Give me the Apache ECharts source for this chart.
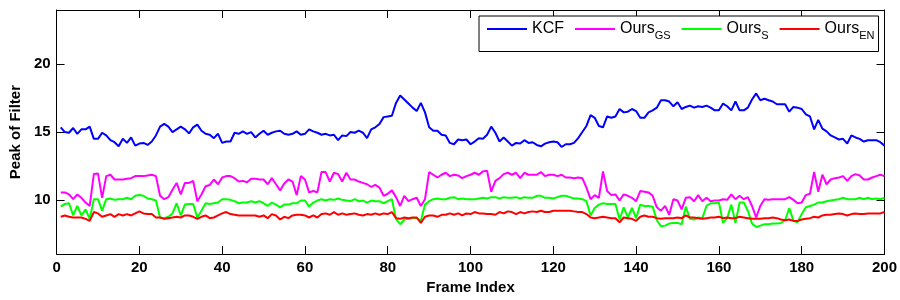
<!DOCTYPE html>
<html>
<head>
<meta charset="utf-8">
<script src="https://cdn.jsdelivr.net/npm/echarts@6/dist/echarts.min.js"></script>
<style>html,body{margin:0;padding:0;background:#fff;}#c{width:900px;height:300px;}</style>
</head>
<body>
<div id="c"></div>
<script>
var seriesNames = ['KCF', 'Ours_GS', 'Ours_S', 'Ours_EN'];
var xTicks = [0, 20, 40, 60, 80, 100, 120, 140, 160, 180, 200];
var yTicks = [10, 15, 20];

var kcf = [
15.35,15.0,14.95,15.3,14.87,15.2,15.2,15.4,14.5,14.5,
14.95,14.75,14.4,14.25,13.95,14.5,14.2,14.6,14.0,14.15,
14.2,14.05,14.3,14.75,15.4,15.6,15.4,15.0,15.2,15.4,
15.2,14.9,15.35,15.55,15.1,14.87,14.8,14.55,14.87,14.2,
14.3,14.3,14.95,14.87,15.05,14.87,15.0,14.6,14.87,15.1,
14.8,14.95,15.05,15.1,14.87,14.8,14.87,15.05,14.8,14.87,
15.2,15.05,14.95,14.8,14.87,14.75,14.8,14.4,14.75,14.7,
15.0,14.95,15.1,14.95,14.55,15.2,15.35,15.6,16.1,16.15,
16.2,17.15,17.7,17.4,17.1,16.8,16.55,17.15,16.45,15.35,
15.1,15.1,14.8,14.75,14.2,14.1,14.45,14.4,14.45,14.1,
14.3,14.55,14.5,14.8,15.4,14.95,14.3,14.6,14.3,14.0,
14.2,14.15,14.4,14.2,14.25,14.05,13.95,14.15,14.25,14.3,
14.25,13.9,14.1,14.1,14.2,14.55,15.0,15.45,16.25,16.05,
15.45,15.35,16.15,16.05,16.15,16.7,16.45,16.5,16.7,16.55,
16.05,16.05,16.45,16.6,16.8,17.35,17.35,17.25,16.9,17.2,
16.7,16.85,16.95,16.8,16.9,16.85,16.95,16.8,16.6,16.6,
17.1,16.9,16.6,17.25,16.6,16.6,16.8,17.4,17.85,17.35,
17.45,17.35,17.25,17.05,17.05,17.05,16.5,16.85,16.8,16.7,
16.3,16.15,15.2,15.9,15.25,15.05,14.75,14.6,14.45,14.5,
14.15,14.75,14.6,14.5,14.3,14.4,14.4,14.4,14.25,14.0
];
var oursGS = [
10.55,10.55,10.4,10.05,10.4,10.15,9.8,9.55,11.9,11.95,
10.15,11.75,11.85,11.5,11.5,11.5,11.55,11.6,11.75,11.75,
11.75,11.8,11.85,11.75,10.3,10.05,10.2,10.75,11.25,10.4,
11.25,11.25,11.4,9.9,10.4,11.0,11.1,11.5,11.15,11.65,
11.75,11.75,11.6,11.35,11.4,11.3,11.55,11.55,11.5,11.5,
11.15,11.6,11.15,10.7,11.2,11.5,11.35,10.35,11.75,11.5,
10.55,10.65,10.55,12.05,12.05,11.35,12.0,11.9,11.35,12.0,
11.5,11.5,11.35,11.25,11.15,10.95,11.1,10.9,10.3,10.45,
10.7,10.2,9.55,10.3,9.9,10.05,10.15,9.55,10.05,12.05,
11.85,11.65,11.85,12.0,11.75,11.85,11.8,11.6,11.75,11.85,
12.0,11.85,12.1,12.15,10.6,11.4,11.6,11.9,12.0,11.85,
12.0,11.6,12.0,11.85,11.85,11.85,12.05,11.75,11.85,11.85,
11.75,11.85,11.65,11.65,11.6,11.65,11.6,10.9,10.05,10.35,
10.15,12.1,10.65,10.35,10.4,9.95,10.4,10.3,10.15,9.9,
10.65,10.6,10.55,10.3,9.45,9.2,9.55,8.9,10.05,9.95,
9.3,10.15,10.2,9.9,10.35,9.9,10.15,9.9,9.95,9.95,
10.05,10.0,10.4,10.05,10.3,10.05,10.2,9.55,8.7,9.55,
10.05,10.0,10.05,10.05,10.05,10.05,10.2,10.0,9.75,9.8,
10.35,10.45,12.05,10.6,11.85,11.15,11.5,11.6,11.65,11.75,
11.4,11.75,11.9,11.8,11.5,11.5,11.65,11.75,11.85,11.75
];
var oursS = [
9.5,9.7,9.75,8.85,9.55,8.85,9.3,8.6,10.05,10.05,
9.2,10.05,10.1,10.0,10.05,10.05,10.15,10.05,10.3,10.35,
10.3,10.1,10.05,9.95,8.7,8.65,8.75,9.0,9.75,8.85,
9.65,9.7,9.7,8.7,9.2,9.75,9.7,9.75,9.8,10.05,
10.05,10.0,9.9,9.75,9.8,9.8,9.9,9.8,9.9,9.75,
9.55,9.8,9.65,9.45,9.65,9.65,9.75,9.75,9.95,9.95,
9.5,9.8,9.95,10.05,9.95,10.05,10.0,10.1,10.0,9.95,
9.9,10.05,9.9,9.95,9.8,9.95,9.9,9.9,9.75,9.9,
10.05,8.6,8.2,8.55,8.6,8.65,8.65,8.45,9.65,9.9,
10.05,10.1,10.05,10.05,10.15,10.2,10.05,10.1,10.05,10.05,
10.05,10.1,10.15,10.1,10.2,10.2,10.1,10.2,10.15,10.15,
10.2,10.1,10.2,10.15,10.15,10.3,10.3,10.15,10.15,10.1,
10.2,10.3,10.3,10.2,10.1,10.1,10.05,9.9,8.85,9.4,
9.65,9.75,9.7,9.7,9.7,8.55,9.45,8.7,9.4,8.65,
9.65,9.55,9.55,9.5,8.5,8.05,8.1,8.25,8.3,8.3,
8.2,9.5,8.6,8.55,8.7,8.65,9.55,9.75,9.75,9.8,
8.3,8.65,9.65,8.3,9.8,9.8,9.2,8.25,8.0,8.1,
8.2,8.2,8.25,8.25,8.3,8.5,9.4,8.45,8.35,8.95,
9.45,9.55,9.65,9.8,9.8,9.9,9.95,10.0,10.05,10.15,
10.05,10.05,10.05,10.15,10.05,10.15,10.05,10.1,10.05,10.15
];
var oursEN = [
8.75,8.85,8.75,8.7,8.7,8.7,8.6,8.45,9.1,9.0,
8.75,8.85,8.95,8.75,8.95,8.85,8.95,8.85,9.0,9.15,
9.0,8.95,8.95,8.7,8.7,8.6,8.65,8.7,8.75,8.7,
8.85,8.85,8.75,8.6,8.75,8.85,8.65,8.7,8.85,9.0,
9.1,8.95,8.9,8.85,8.85,8.85,8.85,8.85,8.75,8.85,
8.65,8.95,8.85,8.55,8.75,8.65,8.85,8.9,8.9,8.85,
8.7,8.85,8.7,8.95,9.0,8.9,9.1,8.9,9.0,8.9,
8.95,9.0,8.9,8.85,8.95,8.9,9.0,8.9,9.0,8.95,
9.1,8.65,8.6,8.7,8.65,8.7,8.7,8.3,8.75,8.85,
8.85,8.75,8.9,8.9,9.0,8.9,9.0,8.85,9.0,8.95,
9.1,9.0,9.0,8.95,8.95,8.9,9.1,9.0,9.15,9.1,
8.95,9.1,9.0,9.1,9.15,9.1,9.2,9.1,9.1,9.2,
9.2,9.2,9.2,9.2,9.15,9.1,9.1,8.95,8.7,8.65,
8.7,8.75,8.7,8.65,8.65,8.35,8.7,8.65,8.6,8.45,
8.75,8.85,8.75,8.75,8.65,8.6,8.65,8.65,8.65,8.7,
8.65,8.85,8.7,8.7,8.65,8.6,8.65,8.7,8.7,8.75,
8.65,8.7,8.65,8.65,8.75,8.7,8.65,8.6,8.6,8.6,
8.65,8.65,8.7,8.65,8.55,8.5,8.55,8.45,8.45,8.55,
8.6,8.65,8.75,8.7,8.85,8.9,8.9,8.95,9.0,8.95,
8.85,8.95,9.0,8.95,8.95,9.0,9.0,9.0,9.0,9.1
];
var colors = ['#0000ff', '#ff00ff', '#00ff00', '#ff0000'];

var FONT = '"Liberation Sans", Arial, sans-serif';
function pairs(arr) { return arr.map(function (v, i) { return [i + 1, v]; }); }
var allData = [kcf, oursGS, oursS, oursEN];

var chart = echarts.init(document.getElementById('c'), null, {renderer: 'canvas'});
var axisCommon = {
  axisLine: {show: true, onZero: false, lineStyle: {color: '#000', width: 1}},
  splitLine: {show: false}
};
chart.setOption({
  animation: false,
  backgroundColor: '#fff',
  grid: {left: 51, right: 15, top: 10, bottom: 43, containLabel: false},
  xAxis: [
    Object.assign({
      type: 'value', min: 0, max: 200, interval: 20, position: 'bottom',
      name: 'Frame Index', nameLocation: 'middle', nameGap: 24,
      nameTextStyle: {fontFamily: FONT, fontSize: 15, fontWeight: 'bold', color: '#000'},
      axisTick: {show: true, inside: true, length: 8, lineStyle: {color: '#000'}},
      axisLabel: {show: true, margin: 6, fontFamily: FONT, fontSize: 15, fontWeight: 'bold', color: '#000', customValues: xTicks}
    }, axisCommon),
    Object.assign({
      type: 'value', min: 0, max: 200, interval: 20, position: 'top',
      axisTick: {show: true, inside: true, length: 8, lineStyle: {color: '#000'}},
      axisLabel: {show: false}
    }, axisCommon)
  ],
  yAxis: [
    Object.assign({
      type: 'value', min: 6, max: 24, position: 'left',
      name: 'Peak of Filter', nameLocation: 'middle', nameGap: 31,
      nameTextStyle: {fontFamily: FONT, fontSize: 15, fontWeight: 'bold', color: '#000'},
      axisTick: {show: true, inside: true, length: 8, customValues: yTicks, lineStyle: {color: '#000'}},
      axisLabel: {show: true, margin: 6, fontFamily: FONT, fontSize: 15, fontWeight: 'bold', color: '#000', customValues: yTicks}
    }, axisCommon),
    Object.assign({
      type: 'value', min: 6, max: 24, position: 'right',
      axisTick: {show: true, inside: true, length: 8, customValues: yTicks, lineStyle: {color: '#000'}},
      axisLabel: {show: false}
    }, axisCommon)
  ],
  legend: {
    left: 479, top: 16,
    orient: 'horizontal',
    backgroundColor: '#fff',
    borderColor: '#000', borderWidth: 1, borderRadius: 0,
    padding: [5, 4, 10, 8],
    itemGap: 11, itemWidth: 40, itemHeight: 2,
    icon: 'rect',
    data: seriesNames,
    formatter: function (name) {
      var parts = name.split('_');
      if (parts.length === 1) return '{n|' + name + '}';
      return '{n|' + parts[0] + '}{s|' + parts[1] + '}';
    },
    textStyle: {
      fontFamily: FONT, color: '#000',
      rich: {
        n: {fontFamily: FONT, fontSize: 16, fontWeight: 'normal', color: '#000'},
        s: {fontFamily: FONT, fontSize: 11, fontWeight: 'normal', color: '#000', padding: [14, 0, 0, 0]}
      }
    }
  },
  series: seriesNames.map(function (nm, i) {
    return {
      name: nm, type: 'line', xAxisIndex: 0, yAxisIndex: 0,
      data: pairs(allData[i]), symbol: 'none', smooth: false,
      lineStyle: {color: colors[i], width: 2}, itemStyle: {color: colors[i]},
      z: 2 + i
    };
  })
});
</script>
</body>
</html>
